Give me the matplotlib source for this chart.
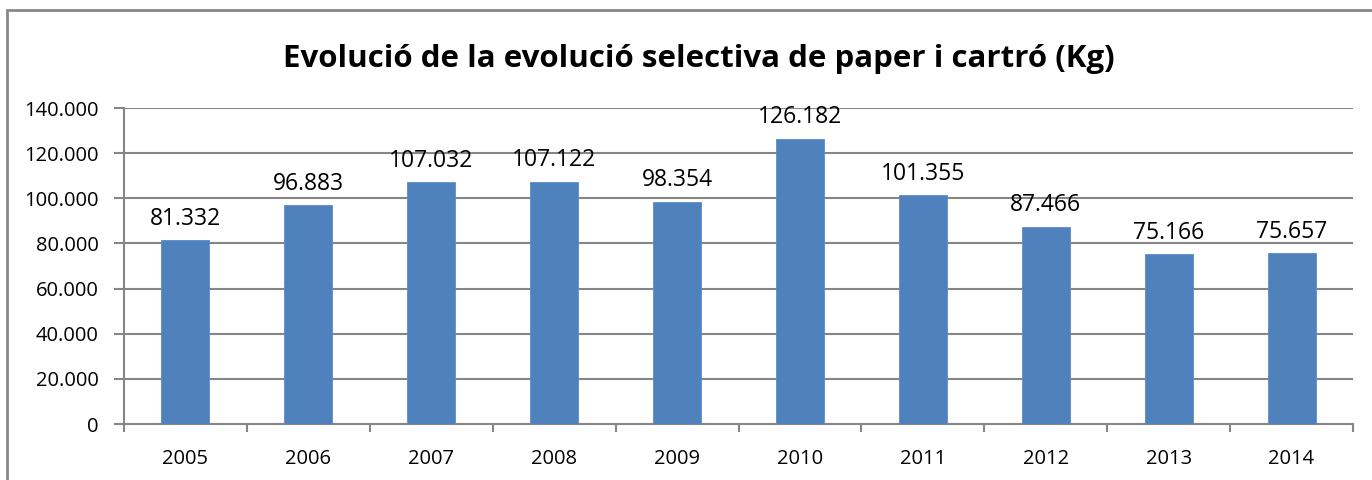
import matplotlib.pyplot as plt
from matplotlib.patches import Rectangle

# Data
years = ["2005", "2006", "2007", "2008", "2009", "2010", "2011", "2012", "2013", "2014"]
kg = [81332, 96883, 107032, 107122, 98354, 126182, 101355, 87466, 75166, 75657]
y_ticks = [0, 20000, 40000, 60000, 80000, 100000, 120000, 140000]
title = "Evolució de la evolució selectiva de paper i cartró (Kg)"

plt.rcParams['font.family'] = ['Open Sans', 'DejaVu Sans']

def fmt(v):
    return f"{v:,}".replace(",", ".")

fig = plt.figure(figsize=(13.72, 4.8), dpi=100)
ax = fig.add_axes([124 / 1372, 56 / 480, (1353 - 124) / 1372, (424 - 108) / 480])

# outer chart frame
fig.patches.append(Rectangle((7 / 1372, -0.05), 1.1, (470 / 480) + 0.05,
                             transform=fig.transFigure, fill=False,
                             edgecolor='#888888', linewidth=2))

x = list(range(len(years)))
ax.bar(x, kg, width=0.39, color='#4F81BD', edgecolor='#5B8CC6', linewidth=0.6, zorder=3)

for xi, v in zip(x, kg):
    ax.annotate(fmt(v), (xi, v), xytext=(0, 7), textcoords='offset points',
                ha='center', va='bottom', fontsize=16.5, color='#000000')

ax.set_xlim(-0.5, len(years) - 0.5)
ax.set_ylim(0, 140000)
ax.set_yticks(y_ticks)
ax.set_yticklabels([fmt(v) for v in y_ticks], fontsize=14.5)
ax.set_xticks(x)
ax.set_xticklabels(years, fontsize=14.5)
ax.set_xticks([i - 0.5 for i in range(len(years) + 1)], minor=True)
ax.tick_params(axis='x', which='major', length=0, pad=18)
ax.tick_params(axis='x', which='minor', length=6, width=1.5, color='#868686', direction='out')
ax.tick_params(axis='y', length=7, width=1.5, color='#868686', direction='out', pad=11)

ax.grid(axis='y', color='#868686', linewidth=1.5, zorder=0)
for side in ['top', 'right']:
    ax.spines[side].set_visible(False)
for side in ['left', 'bottom']:
    ax.spines[side].set_color('#868686')
    ax.spines[side].set_linewidth(1.5)

fig.text(699 / 1372, 1 - 59 / 480, title, ha='center', va='center',
         fontsize=22.5, fontweight='bold')

plt.savefig("out.png", dpi=100)
